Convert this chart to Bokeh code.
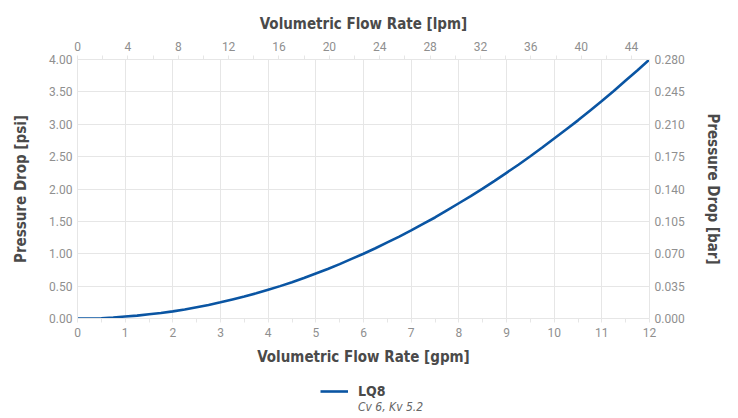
from bokeh.plotting import figure
from bokeh.layouts import column
from bokeh.models import (Range1d, LinearAxis, FixedTicker, NumeralTickFormatter,
                          Legend, LegendItem)
from bokeh.embed import file_html
from bokeh.resources import INLINE

# ---- data ----
gpm = [0, 0.25, 0.5, 0.75, 1, 1.25, 1.5, 1.75, 2, 2.25, 2.5, 2.75, 3, 3.25,
       3.5, 3.75, 4, 4.25, 4.5, 4.75, 5, 5.25, 5.5, 5.75, 6, 6.25, 6.5, 6.75,
       7, 7.25, 7.5, 7.75, 8, 8.25, 8.5, 8.75, 9, 9.25, 9.5, 9.75, 10, 10.25,
       10.5, 10.75, 11, 11.25, 11.5, 11.75, 12]
psi = [0.0, 0.0, 0.005, 0.015, 0.03, 0.045, 0.065, 0.085, 0.11, 0.14, 0.175,
       0.21, 0.25, 0.295, 0.34, 0.39, 0.445, 0.5, 0.56, 0.625, 0.695, 0.765,
       0.84, 0.92, 1.0, 1.085, 1.175, 1.265, 1.36, 1.46, 1.56, 1.67, 1.78,
       1.89, 2.005, 2.125, 2.25, 2.375, 2.505, 2.64, 2.78, 2.92, 3.06, 3.21,
       3.36, 3.515, 3.675, 3.835, 4.0]
series_name = "LQ8"
series_note = "Cv 6, Kv 5.2"

gpm_ticks = list(range(0, 13))
gpm_minor = [i + 0.5 for i in range(0, 12)]
lpm_ticks = list(range(0, 45, 4))
lpm_minor = list(range(2, 46, 4))
psi_ticks = [0, 0.5, 1, 1.5, 2, 2.5, 3, 3.5, 4]
bar_ticks = [0, 0.035, 0.07, 0.105, 0.14, 0.175, 0.21, 0.245, 0.28]
gpm_max, psi_max = 12, 4
lpm_max, bar_max = 45.42, 0.28

TITLE_FONT = "DejaVu Sans Condensed"
TICK_FONT = "Roboto"
TITLE_COLOR = "#4a4a4a"
TICK_COLOR = "#8f8f8f"
GRID = "#e6e6e6"
BLUE = "#0a55a3"

p = figure(frame_width=572, frame_height=259, output_backend="svg",
           toolbar_location=None, x_range=Range1d(0, gpm_max),
           y_range=Range1d(0, psi_max),
           min_border_left=77, min_border_right=81, min_border_top=59,
           min_border_bottom=54, background_fill_color="white",
           border_fill_color="white", outline_line_color=None)

p.extra_x_ranges = {"lpm": Range1d(0, lpm_max)}
p.extra_y_ranges = {"bar": Range1d(0, bar_max)}

r = p.line(gpm, psi, line_color=BLUE, line_width=2.6)

def style(ax, title):
    ax.axis_label = title
    ax.axis_label_text_font = TITLE_FONT
    ax.axis_label_text_font_style = "bold"
    ax.axis_label_text_font_size = "15px"
    ax.axis_label_text_color = TITLE_COLOR
    ax.major_label_text_font = TICK_FONT
    ax.major_label_text_font_size = "12px"
    ax.major_label_text_color = TICK_COLOR
    ax.axis_line_color = GRID
    ax.major_tick_line_color = GRID
    ax.minor_tick_line_color = GRID
    ax.major_tick_in = 0
    ax.minor_tick_in = 0
    ax.major_tick_out = 4
    ax.minor_tick_out = 4

xb = p.xaxis[0]
xb.ticker = FixedTicker(ticks=gpm_ticks, minor_ticks=gpm_minor)
style(xb, "Volumetric Flow Rate [gpm]")
xb.axis_label_standoff = 8

yl = p.yaxis[0]
yl.ticker = FixedTicker(ticks=psi_ticks)
yl.formatter = NumeralTickFormatter(format="0.00")
style(yl, "Pressure Drop [psi]")
yl.major_tick_out = 0
yl.axis_label_standoff = 16

xt = LinearAxis(x_range_name="lpm",
                ticker=FixedTicker(ticks=lpm_ticks, minor_ticks=lpm_minor))
style(xt, "Volumetric Flow Rate [lpm]")
xt.axis_label_standoff = 6
p.add_layout(xt, "above")

yr = LinearAxis(y_range_name="bar", ticker=FixedTicker(ticks=bar_ticks),
                formatter=NumeralTickFormatter(format="0.000"))
style(yr, "Pressure Drop [bar]")
yr.major_tick_out = 0
yr.axis_label_standoff = 16
p.add_layout(yr, "right")

p.xgrid.ticker = FixedTicker(ticks=gpm_ticks)
p.ygrid.ticker = FixedTicker(ticks=psi_ticks)
p.xgrid.grid_line_color = GRID
p.ygrid.grid_line_color = GRID

# ---- legend strip below the chart ----
# the strip's range lies beyond the series, so its proxy lines stay unseen
lg = figure(frame_width=730, frame_height=44, output_backend="svg",
            toolbar_location=None, x_range=Range1d(100, 101),
            y_range=Range1d(100, 101),
            min_border=0, background_fill_color="white",
            border_fill_color="white", outline_line_color=None)
lg.axis.visible = False
lg.grid.visible = False
lr = lg.line(gpm, psi, line_color=BLUE, line_width=2.6)
ghost = lg.line(gpm, psi, line_alpha=0)

legend = Legend(items=[LegendItem(label=series_name, renderers=[lr])],
                location=(320, 17), orientation="horizontal",
                border_line_color=None, background_fill_alpha=0,
                label_text_font=TITLE_FONT, label_text_font_style="bold",
                label_text_font_size="14px", label_text_color=TITLE_COLOR,
                glyph_width=28, glyph_height=14, label_height=14,
                padding=0, margin=0, label_standoff=10)
lg.add_layout(legend, "center")

note = Legend(items=[LegendItem(label=series_note, renderers=[ghost])],
              location=(320, 2), orientation="horizontal",
              border_line_color=None, background_fill_alpha=0,
              label_text_font=TITLE_FONT, label_text_font_style="italic",
              label_text_font_size="12px", label_text_color="#666666",
              glyph_width=28, glyph_height=12, label_height=12,
              padding=0, margin=0, label_standoff=10)
lg.add_layout(note, "center")

layout = column(p, lg, spacing=0)
open("out.html", "w").write(file_html(layout, INLINE))
